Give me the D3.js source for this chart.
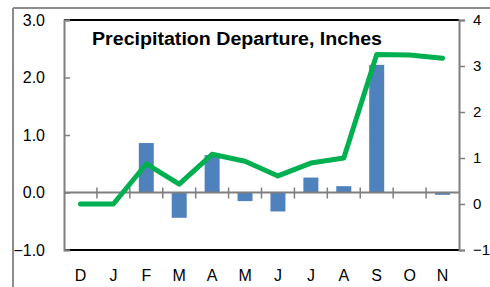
<!DOCTYPE html>
<html>
<head>
<meta charset="utf-8">
<script src="https://cdn.jsdelivr.net/npm/d3@7"></script>
<style>
  body { margin: 0; background: #fff; }
  text { font-family: "Liberation Sans", Arial, sans-serif; }
</style>
</head>
<body>
<svg id="chart" width="490" height="287"></svg>
<script>
// data
const months = ["D", "J", "F", "M", "A", "M", "J", "J", "A", "S", "O", "N"];
const departure = [0, 0, 0.86, -0.44, 0.65, -0.15, -0.33, 0.26, 0.11, 2.22, 0.0, -0.04];
const cumulative = [0, 0, 0.87, 0.43, 1.08, 0.93, 0.61, 0.89, 1.0, 3.25, 3.24, 3.17];
const leftTicks = [-1, 0, 1, 2, 3];
const rightTicks = [-1, 0, 1, 2, 3, 4];

const svg = d3.select("#chart");
const width = 490, height = 287;

// plot area
const pLeft = 64, pRight = 459, pTop = 20, pBottom = 250;

const x = d3.scaleBand().domain(d3.range(months.length)).range([pLeft, pRight]);
const yL = d3.scaleLinear().domain([-1, 3]).range([pBottom, pTop]);
const yR = d3.scaleLinear().domain([-1, 4]).range([pBottom, pTop]);

// outer chart frame
svg.append("line").attr("x1", 13).attr("x2", width).attr("y1", 8).attr("y2", 8)
  .attr("stroke", "#8c8c8c").attr("stroke-width", 2);
svg.append("line").attr("x1", 13).attr("x2", 13).attr("y1", 8).attr("y2", height)
  .attr("stroke", "#8c8c8c").attr("stroke-width", 2);

// plot border top/bottom black
svg.append("line").attr("x1", pLeft).attr("x2", pRight).attr("y1", pTop).attr("y2", pTop)
  .attr("stroke", "#000").attr("stroke-width", 2);
svg.append("line").attr("x1", pLeft).attr("x2", pRight).attr("y1", pBottom).attr("y2", pBottom)
  .attr("stroke", "#000").attr("stroke-width", 2);

// left axis
const axL = d3.axisLeft(yL).tickValues(leftTicks).tickFormat(d3.format(".1f")).tickSize(-6).tickPadding(19);
const gL = svg.append("g").attr("transform", `translate(${pLeft},0)`).call(axL);
gL.select(".domain").attr("stroke", "#7f7f7f").attr("stroke-width", 2);
gL.selectAll(".tick line").attr("stroke", "#7f7f7f").attr("stroke-width", 1.5);
gL.selectAll("text").style("font-size", "16px").attr("fill", "#000");

// right axis
const axR = d3.axisRight(yR).tickValues(rightTicks).tickFormat(d3.format("d")).tickSize(6).tickPadding(8);
const gR = svg.append("g").attr("transform", `translate(${pRight},0)`).call(axR);
gR.select(".domain").attr("stroke", "#7f7f7f").attr("stroke-width", 2);
gR.selectAll(".tick line").attr("stroke", "#7f7f7f").attr("stroke-width", 1.5);
gR.selectAll("text").style("font-size", "15px").attr("fill", "#000");

// bars
svg.append("g").selectAll("rect").data(departure).join("rect")
  .attr("x", (d, i) => x(i) + x.bandwidth() / 2 - 7.5)
  .attr("width", 15)
  .attr("y", d => yL(Math.max(0, d)))
  .attr("height", d => Math.abs(yL(d) - yL(0)))
  .attr("fill", "#4f81bd");

// zero line with category ticks
const zeroY = yL(0);
svg.append("line").attr("x1", pLeft).attr("x2", pRight).attr("y1", zeroY).attr("y2", zeroY)
  .attr("stroke", "#7f7f7f").attr("stroke-width", 2);
svg.append("g").selectAll("line").data(d3.range(1, months.length)).join("line")
  .attr("x1", i => x(i)).attr("x2", i => x(i))
  .attr("y1", zeroY - 5).attr("y2", zeroY + 6)
  .attr("stroke", "#7f7f7f").attr("stroke-width", 1.5);

// category labels
svg.append("g").selectAll("text").data(months).join("text")
  .attr("x", (d, i) => x(i) + x.bandwidth() / 2)
  .attr("y", 281)
  .attr("text-anchor", "middle")
  .style("font-size", "16px")
  .text(d => d);

// cumulative line
const line = d3.line()
  .x((d, i) => x(i) + x.bandwidth() / 2)
  .y(d => yR(d));
svg.append("path").datum(cumulative)
  .attr("d", line)
  .attr("fill", "none")
  .attr("stroke", "#00b050")
  .attr("stroke-width", 5)
  .attr("stroke-linecap", "round")
  .attr("stroke-linejoin", "round");

// title
svg.append("text")
  .attr("x", 92).attr("y", 45)
  .style("font-size", "18px")
  .style("font-weight", "bold")
  .attr("textLength", 290)
  .attr("lengthAdjust", "spacingAndGlyphs")
  .text("Precipitation Departure, Inches");
</script>
</body>
</html>
